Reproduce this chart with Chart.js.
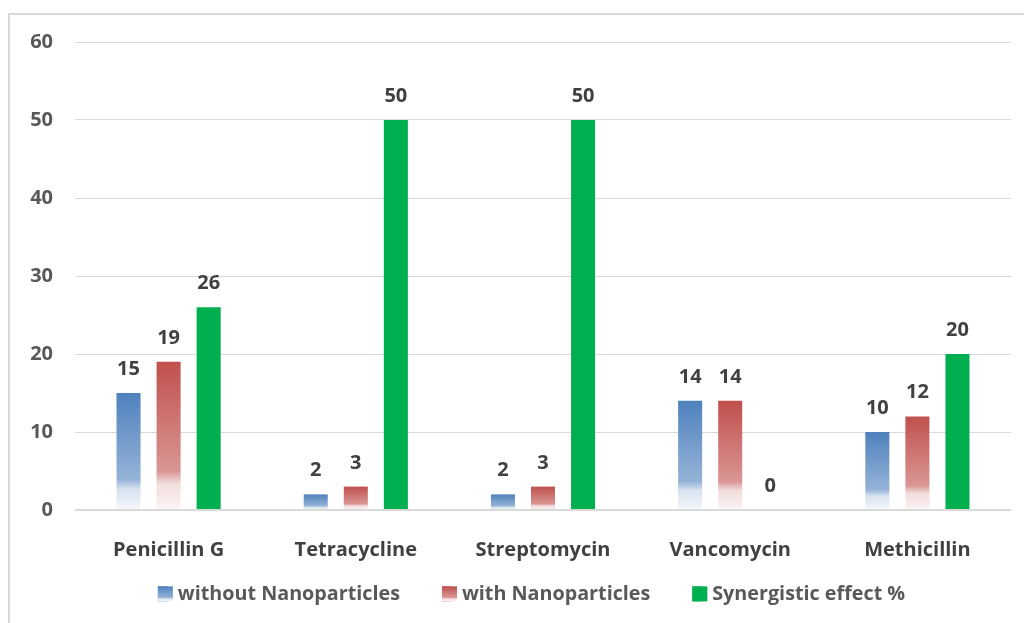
<!DOCTYPE html>
<html>
<head>
<meta charset="utf-8">
<script src="https://cdn.jsdelivr.net/npm/chart.js@4"></script>
<style>
  html, body { margin: 0; padding: 0; background: #fff; overflow: hidden; }
  #wrap { position: relative; width: 1024px; height: 623px; }
  #frame {
    position: absolute; left: 8px; top: 13px; width: 1100px; height: 700px;
    border-left: 2px solid #d9d9d9; border-top: 2px solid #d9d9d9;
    pointer-events: none;
  }
  canvas { position: absolute; left: 0; top: 0; }
</style>
</head>
<body>
<div id="wrap">
  <div id="frame"></div>
  <canvas id="bars" width="1024" height="623"></canvas>
</div>
<script>
'use strict';

var categories = ['Penicillin G', 'Tetracycline', 'Streptomycin', 'Vancomycin', 'Methicillin'];
var withoutNano = [15, 2, 2, 14, 10];
var withNano = [19, 3, 3, 14, 12];
var synergy = [26, 50, 50, 0, 20];
var yTicks = [0, 10, 20, 30, 40, 50, 60];

var FONT = '"Open Sans", "DejaVu Sans", sans-serif';

// vertical fade: solid at the top of each bar, washing out near the base
var fadeStops = {
    blue: ['#4f81bd', '#95b3d7', '#d7e2f0', '#f5f8fc'],
    red: ['#c0504d', '#d99694', '#f1dcdb', '#fcf5f5']
};
var GREEN = '#00b050';

var makeFade = function(ctx2d, stops, top, bottom) {
    var g = ctx2d.createLinearGradient(0, top, 0, bottom);
    g.addColorStop(0, stops[0]);
    g.addColorStop(0.74, stops[1]);
    g.addColorStop(0.82, stops[2]);
    g.addColorStop(1, stops[3]);
    return g;
};

var barFade = function(stops) {
    return function(context) {
        var chart = context.chart;
        if (context.type !== 'data' || !chart.chartArea) return stops[0];
        var y = chart.scales.y;
        var top = y.getPixelForValue(context.raw);
        var base = y.getPixelForValue(0);
        if (base - top < 1) return stops[0];
        return makeFade(chart.ctx, stops, top, base);
    };
};

// value labels above every bar
var valueLabels = {
    id: 'valueLabels',
    afterDatasetsDraw: function(chart) {
        var ctx = chart.ctx;
        ctx.save();
        ctx.font = 'bold 20px ' + FONT;
        ctx.fillStyle = '#404040';
        ctx.textAlign = 'center';
        ctx.textBaseline = 'alphabetic';
        chart.data.datasets.forEach(function(ds, i) {
            chart.getDatasetMeta(i).data.forEach(function(el, j) {
                ctx.fillText(String(ds.data[j]), el.x, el.y - 18);
            });
        });
        ctx.restore();
    }
};

// legend swatches get the same fade as the bars; legend row moved into place
var legendTweaks = {
    id: 'legendTweaks',
    afterLayout: function(chart) {
        var lg = chart.legend;
        lg.left += 26;
        lg.right += 26;
        lg.top -= 28;
    },
    afterDraw: function(chart) {
        var lg = chart.legend;
        var ctx = chart.ctx;
        var fills = [fadeStops.blue, fadeStops.red, null];
        lg.legendHitBoxes.forEach(function(box, i) {
            var top = box.top + (box.height - 15) / 2;
            ctx.save();
            ctx.fillStyle = fills[i] ? makeFade(ctx, fills[i], top, top + 15) : GREEN;
            ctx.fillRect(box.left, top, 15, 15);
            ctx.restore();
        });
    }
};

var ctx = document.getElementById('bars').getContext('2d');
var chart = new Chart(ctx, {
    type: 'bar',
    data: {
        labels: categories,
        datasets: [{
            label: 'without Nanoparticles',
            data: withoutNano,
            backgroundColor: barFade(fadeStops.blue)
        }, {
            label: 'with Nanoparticles',
            data: withNano,
            backgroundColor: barFade(fadeStops.red)
        }, {
            label: 'Synergistic effect %',
            data: synergy,
            backgroundColor: GREEN
        }]
    },
    options: {
        responsive: false,
        animation: false,
        categoryPercentage: 0.642,
        barPercentage: 0.6,
        layout: { padding: { top: 42, right: 13, bottom: 13, left: 0 } },
        plugins: {
            tooltip: { enabled: false },
            legend: {
                position: 'bottom',
                maxHeight: 40,
                labels: {
                    boxWidth: 10,
                    boxHeight: 15,
                    padding: 42,
                    color: '#595959',
                    font: { family: FONT, size: 19.75, weight: 'bold' },
                    generateLabels: function(chart) {
                        var solid = ['#4f81bd', '#c0504d', GREEN];
                        return chart.data.datasets.map(function(ds, i) {
                            return {
                                text: ds.label,
                                fillStyle: solid[i],
                                strokeStyle: solid[i],
                                lineWidth: 0,
                                fontColor: '#595959',
                                datasetIndex: i
                            };
                        });
                    }
                }
            }
        },
        scales: {
            x: {
                grid: { display: false },
                border: { display: false },
                ticks: {
                    padding: 20,
                    color: '#404040',
                    font: { family: FONT, size: 20, weight: 'bold' }
                },
                afterFit: function(scale) { scale.height = 60; }
            },
            y: {
                min: 0,
                max: 60,
                afterBuildTicks: function(scale) {
                    scale.ticks = yTicks.map(function(v) { return { value: v }; });
                },
                border: { display: false },
                grid: {
                    drawTicks: false,
                    color: '#d9d9d9',
                    lineWidth: function(c) { return c.tick && c.tick.value === 0 ? 2 : 1; }
                },
                ticks: {
                    padding: 22,
                    color: '#595959',
                    font: { family: FONT, size: 20, weight: 'bold' }
                },
                afterFit: function(scale) { scale.width = 75; }
            }
        }
    },
    plugins: [valueLabels, legendTweaks]
});
</script>
</body>
</html>
